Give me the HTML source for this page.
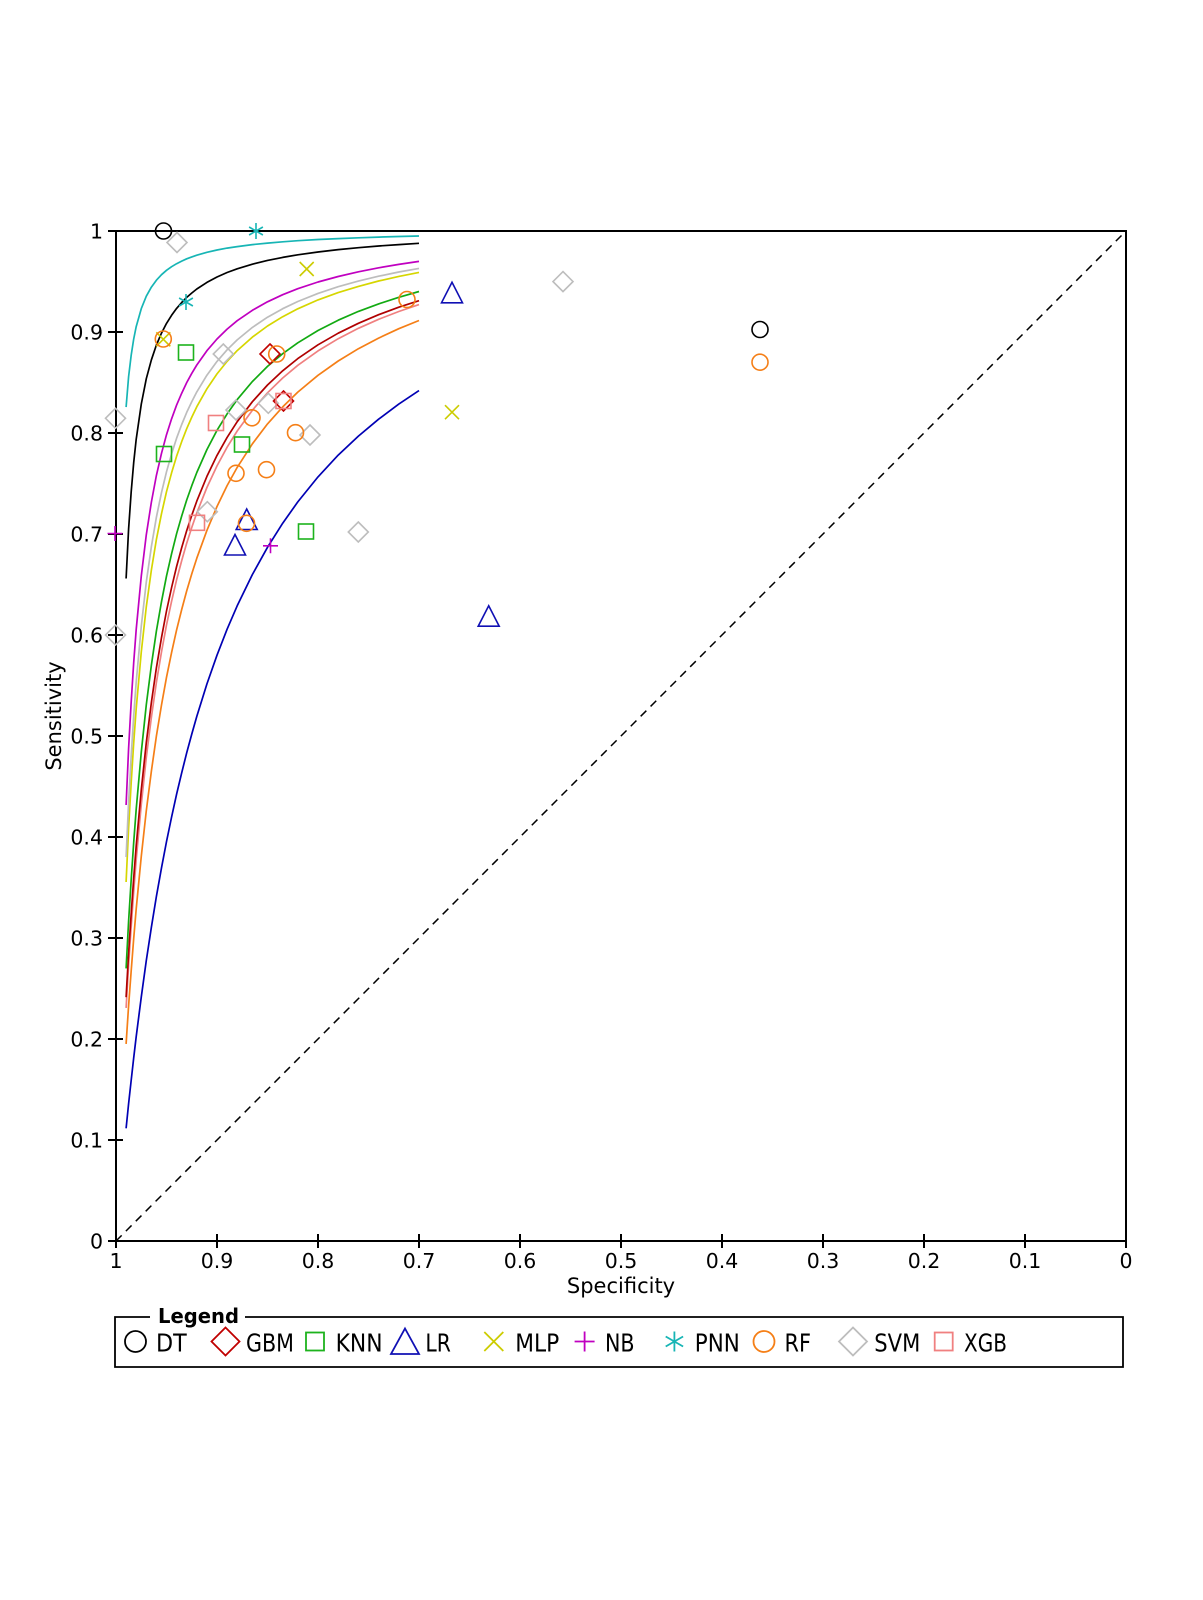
<!DOCTYPE html>
<html>
<head>
<meta charset="utf-8">
<style>
html,body{margin:0;padding:0;background:#fff;}
svg{display:block;}
text{font-family:"DejaVu Sans","Liberation Sans",sans-serif;fill:#000;}
</style>
</head>
<body>
<svg width="1203" height="1600" viewBox="0 0 1203 1600" xmlns="http://www.w3.org/2000/svg">
<rect width="1203" height="1600" fill="#fff"/>

<!-- diagonal -->
<line x1="116" y1="1241" x2="1126" y2="231" stroke="#000" stroke-width="1.5" stroke-dasharray="8 6"/>

<!-- curves -->
<g fill="none" stroke-width="1.7" stroke-linejoin="round" stroke-linecap="butt">
<polyline stroke="#0000b4" points="126.1,1128.3 128.6,1103.7 131.2,1080.2 133.7,1057.9 136.2,1036.6 141.3,996.9 146.3,960.5 151.4,927.1 156.4,896.4 161.5,867.9 166.5,841.6 171.6,817.0 176.6,794.2 181.7,772.8 186.7,752.8 191.8,734.0 196.8,716.4 206.9,684.0 217,655.2 227.1,629.2 237.2,605.8 252.4,574.5 267.5,547.3 282.7,523.2 297.8,501.9 318,476.9 338.2,455.1 358.4,436.1 378.6,419.2 398.8,404.1 419,390.6"/>
<polyline stroke="#f57f17" points="126.1,1043.9 128.6,1005.7 131.2,970.7 133.7,938.5 136.2,908.9 141.3,856.2 146.3,810.7 151.4,771.0 156.4,736.0 161.5,705.0 166.5,677.3 171.6,652.4 176.6,629.9 181.7,609.5 186.7,590.9 191.8,573.8 196.8,558.2 206.9,530.4 217,506.5 227.1,485.6 237.2,467.4 252.4,443.8 267.5,423.9 282.7,406.9 297.8,392.1 318,375.3 338.2,361.0 358.4,348.7 378.6,338.1 398.8,328.7 419,320.5"/>
<polyline stroke="#f08080" points="126.1,1007.9 128.6,965.0 131.2,926.5 133.7,891.6 136.2,859.8 141.3,804.4 146.3,757.4 151.4,717.2 156.4,682.4 161.5,651.9 166.5,625.0 171.6,601.2 176.6,579.8 181.7,560.6 186.7,543.2 191.8,527.4 196.8,512.9 206.9,487.5 217,465.9 227.1,447.2 237.2,431.0 252.4,410.2 267.5,392.8 282.7,378.0 297.8,365.3 318,350.9 338.2,338.7 358.4,328.3 378.6,319.3 398.8,311.5 419,304.6"/>
<polyline stroke="#b00000" points="126.1,997.2 128.6,953.1 131.2,913.6 133.7,878.0 136.2,845.8 141.3,789.7 146.3,742.6 151.4,702.4 156.4,667.8 161.5,637.6 166.5,611.0 171.6,587.5 176.6,566.5 181.7,547.6 186.7,530.6 191.8,515.2 196.8,501.1 206.9,476.4 217,455.4 227.1,437.4 237.2,421.7 252.4,401.7 267.5,385.0 282.7,370.8 297.8,358.6 318,344.8 338.2,333.2 358.4,323.3 378.6,314.7 398.8,307.2 419,300.7"/>
<polyline stroke="#12aa12" points="126.1,968.4 128.6,921.2 131.2,879.5 133.7,842.4 136.2,809.2 141.3,752.0 146.3,704.7 151.4,665.0 156.4,631.0 161.5,601.7 166.5,576.1 171.6,553.7 176.6,533.7 181.7,516.0 186.7,500.0 191.8,485.6 196.8,472.5 206.9,449.6 217,430.3 227.1,413.9 237.2,399.6 252.4,381.5 267.5,366.4 282.7,353.7 297.8,342.8 318,330.5 338.2,320.2 358.4,311.4 378.6,303.9 398.8,297.3 419,291.5"/>
<polyline stroke="#d6d600" points="126.1,882.0 128.6,828.2 131.2,782.5 133.7,743.0 136.2,708.7 141.3,651.8 146.3,606.7 151.4,569.9 156.4,539.4 161.5,513.7 166.5,491.7 171.6,472.8 176.6,456.2 181.7,441.6 186.7,428.7 191.8,417.1 196.8,406.7 206.9,388.8 217,373.9 227.1,361.4 237.2,350.6 252.4,337.1 267.5,326.0 282.7,316.7 297.8,308.8 318,299.9 338.2,292.6 358.4,286.4 378.6,281.0 398.8,276.4 419,272.4"/>
<polyline stroke="#bdbdbd" points="126.1,857.1 128.6,802.2 131.2,755.9 133.7,716.2 136.2,682.1 141.3,626.1 146.3,582.0 151.4,546.5 156.4,517.2 161.5,492.6 166.5,471.8 171.6,453.8 176.6,438.2 181.7,424.5 186.7,412.4 191.8,401.6 196.8,391.9 206.9,375.2 217,361.4 227.1,349.8 237.2,339.9 252.4,327.4 267.5,317.2 282.7,308.7 297.8,301.5 318,293.4 338.2,286.7 358.4,281.1 378.6,276.2 398.8,272.0 419,268.4"/>
<polyline stroke="#c000c0" points="126.1,805.0 128.6,748.4 131.2,701.8 133.7,662.7 136.2,629.5 141.3,575.9 146.3,534.7 151.4,502.0 156.4,475.4 161.5,453.3 166.5,434.7 171.6,418.8 176.6,405.1 181.7,393.2 186.7,382.6 191.8,373.3 196.8,365.0 206.9,350.7 217,339.0 227.1,329.1 237.2,320.7 252.4,310.3 267.5,301.8 282.7,294.7 297.8,288.7 318,282.0 338.2,276.5 358.4,271.8 378.6,267.8 398.8,264.4 419,261.4"/>
<polyline stroke="#000000" points="126.1,578.5 128.6,529.1 131.2,491.7 133.7,462.6 136.2,439.2 141.3,404.0 146.3,378.7 151.4,359.8 156.4,345.0 161.5,333.1 166.5,323.4 171.6,315.3 176.6,308.4 181.7,302.5 186.7,297.4 191.8,293.0 196.8,289.0 206.9,282.4 217,277.0 227.1,272.5 237.2,268.8 252.4,264.2 267.5,260.4 282.7,257.4 297.8,254.8 318,252.0 338.2,249.6 358.4,247.7 378.6,246.0 398.8,244.6 419,243.3"/>
<polyline stroke="#17b5b5" points="126.1,407.1 128.6,376.7 131.2,355.1 133.7,339.0 136.2,326.6 141.3,308.6 146.3,296.2 151.4,287.1 156.4,280.2 161.5,274.7 166.5,270.3 171.6,266.7 176.6,263.7 181.7,261.1 186.7,258.8 191.8,256.9 196.8,255.2 206.9,252.3 217,250.0 227.1,248.1 237.2,246.6 252.4,244.6 267.5,243.1 282.7,241.8 297.8,240.7 318,239.5 338.2,238.6 358.4,237.8 378.6,237.1 398.8,236.5 419,236.0"/>
</g>

<!-- axes box -->
<rect x="116" y="231" width="1010" height="1010" fill="none" stroke="#000" stroke-width="2"/>

<!-- ticks -->
<g stroke="#000" stroke-width="2">
<line x1="108" y1="1241" x2="123" y2="1241"/>
<line x1="108" y1="1140" x2="123" y2="1140"/>
<line x1="108" y1="1039" x2="123" y2="1039"/>
<line x1="108" y1="938" x2="123" y2="938"/>
<line x1="108" y1="837" x2="123" y2="837"/>
<line x1="108" y1="736" x2="123" y2="736"/>
<line x1="108" y1="635" x2="123" y2="635"/>
<line x1="108" y1="534" x2="123" y2="534"/>
<line x1="108" y1="433" x2="123" y2="433"/>
<line x1="108" y1="332" x2="123" y2="332"/>
<line x1="108" y1="231" x2="123" y2="231"/>
<line x1="116" y1="1234" x2="116" y2="1248"/>
<line x1="217" y1="1234" x2="217" y2="1248"/>
<line x1="318" y1="1234" x2="318" y2="1248"/>
<line x1="419" y1="1234" x2="419" y2="1248"/>
<line x1="520" y1="1234" x2="520" y2="1248"/>
<line x1="621" y1="1234" x2="621" y2="1248"/>
<line x1="722" y1="1234" x2="722" y2="1248"/>
<line x1="823" y1="1234" x2="823" y2="1248"/>
<line x1="924" y1="1234" x2="924" y2="1248"/>
<line x1="1025" y1="1234" x2="1025" y2="1248"/>
<line x1="1126" y1="1234" x2="1126" y2="1248"/>
</g>

<!-- y tick labels -->
<g font-size="20.5" text-anchor="end">
<text x="103" y="1248.5">0</text>
<text x="103" y="1147.5">0.1</text>
<text x="103" y="1046.5">0.2</text>
<text x="103" y="945.5">0.3</text>
<text x="103" y="844.5">0.4</text>
<text x="103" y="743.5">0.5</text>
<text x="103" y="642.5">0.6</text>
<text x="103" y="541.5">0.7</text>
<text x="103" y="440.5">0.8</text>
<text x="103" y="339.5">0.9</text>
<text x="103" y="238.5">1</text>
</g>
<!-- x tick labels -->
<g font-size="20.5" text-anchor="middle">
<text x="116" y="1268">1</text>
<text x="217" y="1268">0.9</text>
<text x="318" y="1268">0.8</text>
<text x="419" y="1268">0.7</text>
<text x="520" y="1268">0.6</text>
<text x="621" y="1268">0.5</text>
<text x="722" y="1268">0.4</text>
<text x="823" y="1268">0.3</text>
<text x="924" y="1268">0.2</text>
<text x="1025" y="1268">0.1</text>
<text x="1126" y="1268">0</text>
</g>

<text x="621" y="1293" font-size="21" text-anchor="middle">Specificity</text>
<text transform="translate(61,716) rotate(-90)" x="0" y="0" font-size="21" text-anchor="middle">Sensitivity</text>

<!-- markers -->
<g fill="none" stroke-width="1.6">
<!-- SVM gray diamonds -->
<g stroke="#bdbdbd">
<polygon points="177,232.5 187,242.5 177,252.5 167,242.5"/>
<polygon points="563,271.6 573,281.6 563,291.6 553,281.6"/>
<polygon points="223.3,344 233.3,354 223.3,364 213.3,354"/>
<polygon points="268.3,393.3 278.3,403.3 268.3,413.3 258.3,403.3"/>
<polygon points="236,400 246,410 236,420 226,410"/>
<polygon points="115.5,408.3 125.5,418.3 115.5,428.3 105.5,418.3"/>
<polygon points="310,425 320,435 310,445 300,435"/>
<polygon points="207.3,501.7 217.3,511.7 207.3,521.7 197.3,511.7"/>
<polygon points="358.3,522 368.3,532 358.3,542 348.3,532"/>
<polygon points="115.5,625 125.5,635 115.5,645 105.5,635"/>
</g>
<!-- DT black circles -->
<g stroke="#000">
<circle cx="163.5" cy="231" r="8"/>
<circle cx="760" cy="329.5" r="8"/>
</g>
<!-- GBM diamonds -->
<g stroke="#c00000">
<polygon points="270,344 280,354 270,364 260,354"/>
<polygon points="283.5,391 293.5,401 283.5,411 273.5,401"/>
</g>
<!-- KNN squares -->
<g stroke="#1db31d">
<rect x="178.5" y="345" width="15" height="15"/>
<rect x="156.5" y="446.5" width="15" height="15"/>
<rect x="234.5" y="437" width="15" height="15"/>
<rect x="298.5" y="524" width="15" height="15"/>
</g>
<!-- LR triangles -->
<g stroke="#1010b4">
<polygon points="452,282.3 462.5,302.8 441.5,302.8"/>
<polygon points="246.7,509 257.2,529.5 236.2,529.5"/>
<polygon points="235,534.5 245.5,555 224.5,555"/>
<polygon points="488.7,605.7 499.2,626.2 478.2,626.2"/>
</g>
<!-- MLP x -->
<g stroke="#cccc00">
<path d="M299.7,262 L313.7,276 M313.7,262 L299.7,276"/>
<path d="M156.3,332.3 L170.3,346.3 M170.3,332.3 L156.3,346.3"/>
<path d="M445,405.2 L459,419.2 M459,405.2 L445,419.2"/>
</g>
<!-- NB plus -->
<g stroke="#c000c0">
<path d="M107.5,533.5 L122.5,533.5 M115,526 L115,541"/>
<path d="M263,545.8 L278,545.8 M270.5,538.3 L270.5,553.3"/>
</g>
<!-- PNN asterisk -->
<g stroke="#17b5b5">
<path d="M256,223 L256,239 M249.1,227 L262.9,235 M249.1,235 L262.9,227"/>
<path d="M186,294 L186,310 M179.1,298 L192.9,306 M179.1,306 L192.9,298"/>
</g>
<!-- RF circles -->
<g stroke="#f57f17">
<circle cx="163.3" cy="339" r="8"/>
<circle cx="276.7" cy="354" r="8"/>
<circle cx="407" cy="299.5" r="8"/>
<circle cx="252" cy="417.8" r="8"/>
<circle cx="295.5" cy="432.7" r="8"/>
<circle cx="236" cy="473.3" r="8"/>
<circle cx="266.5" cy="469.7" r="8"/>
<circle cx="246.5" cy="523.3" r="8"/>
<circle cx="760" cy="362.2" r="8"/>
</g>
<!-- XGB squares -->
<g stroke="#f08080">
<rect x="208.5" y="415.5" width="15" height="15"/>
<rect x="189.5" y="515.3" width="15" height="15"/>
<rect x="276" y="393.5" width="15" height="15"/>
</g>
</g>

<!-- Legend box -->
<path d="M150,1317 L115,1317 L115,1367 L1123,1367 L1123,1317 L245,1317" fill="none" stroke="#000" stroke-width="1.8"/>
<text x="158" y="1323" font-size="20.5" font-weight="bold" textLength="81" lengthAdjust="spacingAndGlyphs">Legend</text>

<g fill="none" stroke-width="1.8">
<circle cx="135.5" cy="1341.5" r="10.5" stroke="#000"/>
<polygon points="225.5,1327.5 239.5,1341.5 225.5,1355.5 211.5,1341.5" stroke="#c00000"/>
<rect x="306" y="1332.5" width="18" height="18" stroke="#1db31d"/>
<polygon points="405,1328.5 419,1354 391,1354" stroke="#1010b4"/>
<path d="M484.3,1332 L503.3,1351 M503.3,1332 L484.3,1351" stroke="#cccc00"/>
<path d="M574.6,1341.5 L594.6,1341.5 M584.6,1331.5 L584.6,1351.5" stroke="#c000c0"/>
<path d="M674.4,1331.5 L674.4,1351.5 M665.7,1336.5 L683.1,1346.5 M665.7,1346.5 L683.1,1336.5" stroke="#17b5b5"/>
<circle cx="764" cy="1341.5" r="10.5" stroke="#f57f17"/>
<polygon points="853,1327.5 867,1341.5 853,1355.5 839,1341.5" stroke="#bdbdbd"/>
<rect x="934.7" y="1332.5" width="18" height="18" stroke="#f08080"/>
</g>

<g font-size="25">
<text x="156" y="1351.5" textLength="30.7" lengthAdjust="spacingAndGlyphs">DT</text>
<text x="246" y="1351.5" textLength="48" lengthAdjust="spacingAndGlyphs">GBM</text>
<text x="335.6" y="1351.5" textLength="47" lengthAdjust="spacingAndGlyphs">KNN</text>
<text x="425.4" y="1351.5" textLength="25.5" lengthAdjust="spacingAndGlyphs">LR</text>
<text x="515.2" y="1351.5" textLength="44" lengthAdjust="spacingAndGlyphs">MLP</text>
<text x="605" y="1351.5" textLength="29.6" lengthAdjust="spacingAndGlyphs">NB</text>
<text x="694.8" y="1351.5" textLength="45" lengthAdjust="spacingAndGlyphs">PNN</text>
<text x="784.5" y="1351.5" textLength="26.5" lengthAdjust="spacingAndGlyphs">RF</text>
<text x="874.3" y="1351.5" textLength="46" lengthAdjust="spacingAndGlyphs">SVM</text>
<text x="964" y="1351.5" textLength="43" lengthAdjust="spacingAndGlyphs">XGB</text>
</g>
</svg>
</body>
</html>
